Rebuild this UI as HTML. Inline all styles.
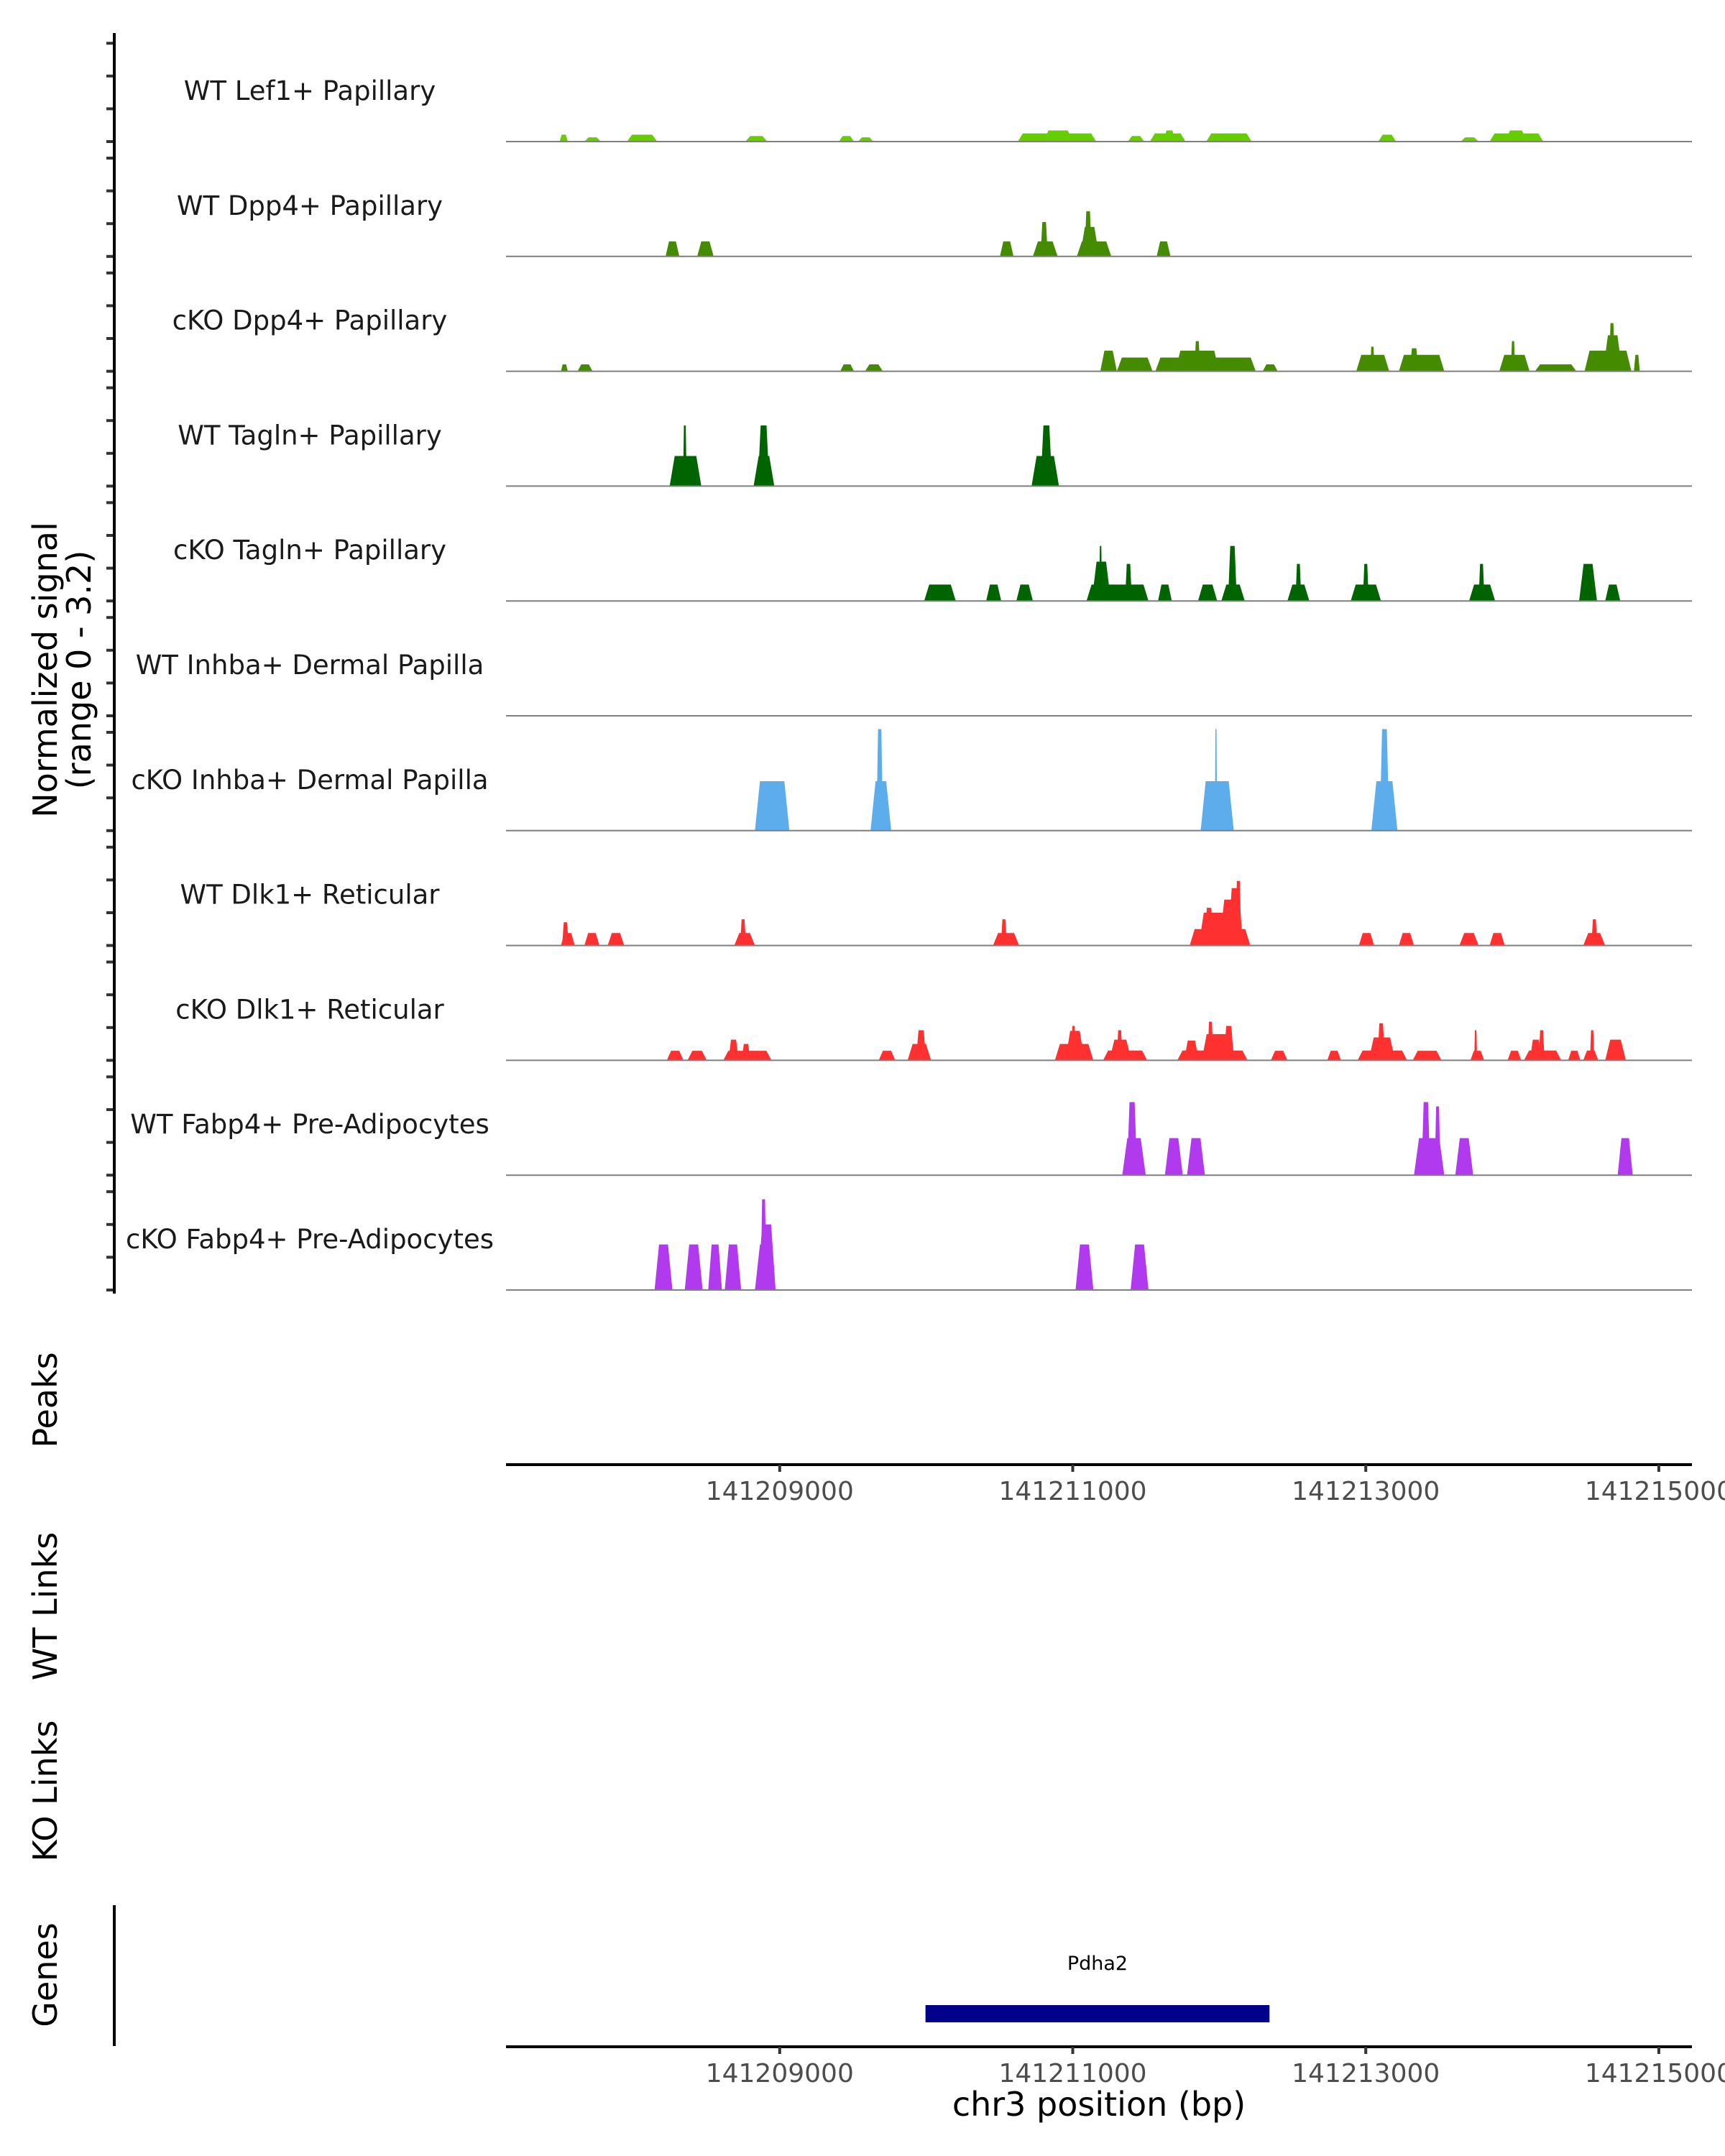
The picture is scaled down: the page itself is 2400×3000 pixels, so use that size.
<!DOCTYPE html>
<html><head><meta charset="utf-8"><style>
html,body{margin:0;padding:0;background:#fff;}
svg{display:block;font-family:"DejaVu Sans","Liberation Sans",sans-serif;}
</style></head><body>
<svg id="chart" width="2400" height="3000" viewBox="0 0 2400 3000" xmlns="http://www.w3.org/2000/svg">
<g id="tracks"></g>
<g id="axes"></g>
<text transform="translate(79,932) rotate(-90)" text-anchor="middle" font-size="46" fill="#000">Normalized signal</text>
<text transform="translate(126,932) rotate(-90)" text-anchor="middle" font-size="46" fill="#000">(range 0 - 3.2)</text>
<text transform="translate(79,1948) rotate(-90)" text-anchor="middle" font-size="46" fill="#000">Peaks</text>
<text transform="translate(79,2235) rotate(-90)" text-anchor="middle" font-size="46" fill="#000">WT Links</text>
<text transform="translate(79,2492) rotate(-90)" text-anchor="middle" font-size="46" fill="#000">KO Links</text>
<text transform="translate(79,2748) rotate(-90)" text-anchor="middle" font-size="46" fill="#000">Genes</text>
<line x1="159" y1="2651" x2="159" y2="2847" stroke="#000" stroke-width="4"/>
<text x="1529" y="2944" text-anchor="middle" font-size="46" fill="#000">chr3 position (bp)</text>
</svg>
<script>
const chromOffset = 141207000;
const domainStart = 132, domainEnd = 8226;
const trackLabels = ["WT Lef1+ Papillary","WT Dpp4+ Papillary","cKO Dpp4+ Papillary","WT Tagln+ Papillary","cKO Tagln+ Papillary","WT Inhba+ Dermal Papilla","cKO Inhba+ Dermal Papilla","WT Dlk1+ Reticular","cKO Dlk1+ Reticular","WT Fabp4+ Pre-Adipocytes","cKO Fabp4+ Pre-Adipocytes"];
const trackColors = ["#66CD00","#458B00","#458B00","#006400","#006400","#5DADEC","#5DADEC","#FF3030","#FF3030","#B23AEE","#B23AEE"];
const yTicks = [0,1,2,3];
const xTicks = [141209000,141211000,141213000,141215000];
const geneName = "Pdha2";
const geneStart = 141209995, geneEnd = 141212343;
// segments: [startOffsetBp, endOffsetBp, signal]
const wtLef1 = [[498,554,0.21],[667,779,0.13],[958,1164,0.21],[1765,1916,0.17],[2404,2507,0.17],[2535,2639,0.13],[3625,4160,0.25],[3800,4000,0.34],[4376,4488,0.17],[4526,4770,0.25],[4620,4700,0.34],[4911,5221,0.25],[6085,6207,0.21],[6648,6770,0.13],[6845,7212,0.25],[6950,7100,0.34]];
const wtDpp4 = [[1221,1315,0.46],[1437,1549,0.46],[3503,3596,0.46],[3728,3897,0.46],[3780,3830,1.05],[4028,4263,0.46],[4050,4180,0.9],[4080,4130,1.38],[4573,4667,0.46]];
const ckoDpp4 = [[507,554,0.21],[620,723,0.21],[2413,2507,0.21],[2582,2704,0.21],[4188,4301,0.63],[4301,4545,0.42],[4564,5249,0.42],[4700,5000,0.63],[4830,4870,0.92],[5296,5399,0.21],[5935,6160,0.5],[6030,6060,0.75],[6226,6536,0.5],[6300,6360,0.7],[6911,7118,0.5],[6990,7020,0.92],[7155,7437,0.21],[7493,7813,0.63],[7620,7750,1.1],[7660,7700,1.47],[7830,7870,0.5]];
const wtTagln = [[1249,1465,0.92],[1340,1365,1.85],[1822,1963,0.92],[1850,1930,1.85],[3719,3906,0.92],[3780,3860,1.85]];
const ckoTagln = [[2986,3202,0.5],[3409,3512,0.5],[3615,3728,0.5],[4094,4517,0.5],[4130,4260,1.2],[4180,4200,1.68],[4357,4404,1.13],[4582,4676,0.5],[4855,4986,0.5],[5014,5174,0.5],[5060,5120,1.68],[5465,5615,0.5],[5520,5560,1.13],[5897,6104,0.5],[5980,6020,1.13],[6705,6883,0.5],[6770,6810,1.13],[7456,7578,1.13],[7634,7737,0.5]];
const wtInhba = [];
const ckoInhba = [[1831,2066,1.51],[2620,2761,1.51],[2660,2705,3.1],[4873,5099,1.51],[4970,4985,3.1],[6038,6216,1.51],[6095,6160,3.1]];
const wtDlk1 = [[507,601,0.38],[515,560,0.71],[667,770,0.38],[826,939,0.38],[1690,1831,0.38],[1730,1770,0.8],[3456,3634,0.38],[3510,3550,0.8],[4798,5212,0.5],[4860,5160,1.0],[4900,4960,1.15],[5000,5160,1.4],[5060,5160,1.75],[5110,5150,1.97],[5953,6057,0.38],[6226,6329,0.38],[6639,6770,0.38],[6845,6949,0.38],[7484,7634,0.38],[7540,7580,0.8]];
const ckoDlk1 = [[1230,1343,0.29],[1371,1502,0.29],[1615,1944,0.29],[1650,1720,0.63],[1740,1800,0.5],[2676,2789,0.29],[2873,3033,0.5],[2930,3000,0.92],[3878,4141,0.5],[3950,4080,0.9],[3990,4020,1.05],[4207,4508,0.3],[4250,4400,0.63],[4300,4340,0.92],[4714,5193,0.3],[4760,4860,0.6],[4880,5100,0.8],[4920,4960,1.18],[5030,5100,1.05],[5352,5465,0.29],[5737,5831,0.29],[5944,6282,0.3],[6020,6200,0.7],[6080,6130,1.13],[6320,6517,0.29],[6714,6808,0.29],[6740,6760,0.92],[6968,7061,0.29],[7080,7334,0.3],[7120,7200,0.63],[7180,7220,0.92],[7381,7465,0.29],[7484,7587,0.3],[7530,7560,0.92],[7634,7775,0.63]];
const wtFabp4 = [[4338,4498,1.13],[4370,4440,2.23],[4629,4751,1.13],[4780,4902,1.13],[6329,6536,1.13],[6380,6440,2.23],[6470,6510,2.1],[6611,6733,1.13],[7719,7822,1.13]];
const ckoFabp4 = [[1146,1268,1.39],[1352,1474,1.39],[1512,1606,1.39],[1625,1737,1.39],[1831,1972,1.39],[1850,1972,2.0],[1870,1910,2.77],[4019,4141,1.39],[4395,4517,1.39]];
const trackData = [wtLef1,wtDpp4,ckoDpp4,wtTagln,ckoTagln,wtInhba,ckoInhba,wtDlk1,ckoDlk1,wtFabp4,ckoFabp4];

const NS = "http://www.w3.org/2000/svg";
const X0 = 704, X1 = 2354;
function xScale(off){ return X0 + (off - domainStart) / (domainEnd - domainStart) * (X1 - X0); }
function xBp(bp){ return xScale(bp - chromOffset); }
function baseY(i){ return 197 + i * 159.8; }
function yScale(i, v){ return baseY(i) - v * 45.6; }
function mk(tag, attrs, parent){ const e = document.createElementNS(NS, tag); for (const k in attrs) e.setAttribute(k, attrs[k]); parent.appendChild(e); return e; }

const tracks = document.getElementById("tracks");
const axes = document.getElementById("axes");

trackData.forEach((segs, i) => {
  const g = mk("g", {}, tracks);
  
  
  const lbl = mk("text", {x: 431, y: yScale(i, 0) - 58, "text-anchor": "middle", "font-size": 37, fill: "#1a1a1a"}, g);
  lbl.textContent = trackLabels[i];
  
  
  segs.forEach(s => {
    const xa = xScale(s[0]), xb = xScale(s[1]);
    const ramp = Math.min((xb - xa) * 0.25, 7);
    const y0 = baseY(i), yv = yScale(i, s[2]);
    const p = mk("polygon", {points: `${xa},${y0} ${xa+ramp},${yv} ${xb-ramp},${yv} ${xb},${y0}`, fill: trackColors[i]}, g);
    
    
  });
  const bl = mk("line", {x1: X0, x2: X1, y1: baseY(i), y2: baseY(i), stroke: "#7f7f7f", "stroke-width": 2}, g);
  
  
  yTicks.forEach(t => {
    const tk = mk("line", {x1: 148, x2: 159, y1: yScale(i, t), y2: yScale(i, t), stroke: "#333", "stroke-width": 4}, axes);
    
    
  });
});
const yl = mk("line", {x1: 159, x2: 159, y1: 46, y2: 1800, stroke: "#000", "stroke-width": 4}, axes);



[[2038, 2082], [2848, 2892]].forEach((a, j) => {
  const ax = mk("line", {x1: X0, x2: X1, y1: a[0], y2: a[0], stroke: "#000", "stroke-width": 4}, axes);
  
  
  xTicks.forEach(t => {
    const x = xBp(t);
    const tk = mk("line", {x1: x, x2: x, y1: a[0], y2: a[0] + 10, stroke: "#333", "stroke-width": 4}, axes);
    
    
    const tl = mk("text", {x: x, y: a[1] + 5, "text-anchor": "middle", "font-size": 36, fill: "#4d4d4d"}, axes);
    tl.textContent = t;
    
    
  });
});

const gb = mk("rect", {x: xBp(geneStart), y: 2790, width: xBp(geneEnd) - xBp(geneStart), height: 24, fill: "#00008B"}, axes);


const gl = mk("text", {x: (xBp(geneStart) + xBp(geneEnd)) / 2, y: 2741, "text-anchor": "middle", "font-size": 27, fill: "#000"}, axes);
gl.textContent = geneName;


</script>
</body></html>
